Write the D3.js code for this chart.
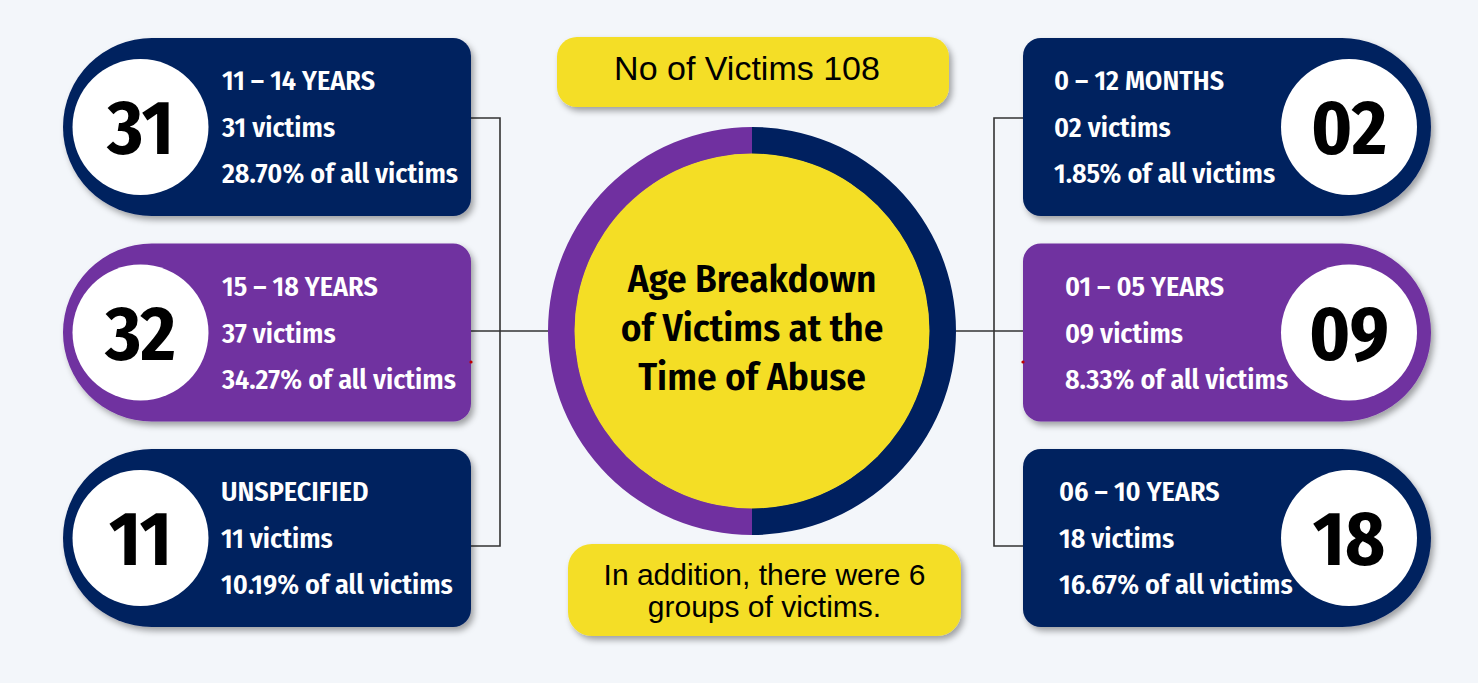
<!doctype html>
<html lang="en">
<head>
<meta charset="UTF-8">
<title>Age Breakdown of Victims</title>
<script src="https://cdn.jsdelivr.net/npm/d3@7"></script>
<style>
  body { margin: 0; background: #f3f6fa; }
  svg { display: block; }
</style>
</head>
<body>
<svg id="chart" width="1478" height="683"></svg>
<script>
// ---- data ----
var groups = ['11 – 14 YEARS', '15 – 18 YEARS', 'UNSPECIFIED', '0 – 12 MONTHS', '01 – 05 YEARS', '06 – 10 YEARS'];
var badgeNumbers = ['31', '32', '11', '02', '09', '18'];
var victimCounts = ['31', '37', '11', '02', '09', '18'];
var percents = ['28.70', '34.27', '10.19', '1.85', '8.33', '16.67'];
var sides = ['left', 'left', 'left', 'right', 'right', 'right'];
var rows = [0, 1, 2, 0, 1, 2];
var tones = ['navy', 'purple', 'navy', 'navy', 'purple', 'navy'];
var ringHalves = [{ tone: 'navy', value: 1 }, { tone: 'purple', value: 1 }];
var totalLabel = 'No of Victims 108';
var titleLines = ['Age Breakdown', 'of Victims at the', 'Time of Abuse'];
var noteLines = ['In addition, there were 6', 'groups of victims.'];

// ---- font pick (condensed bold if there is one) ----
function pickFont(list) {
  var ctx = document.createElement('canvas').getContext('2d');
  var probe = 'abcdefghijk 0123456789 VICTIMS';
  ctx.font = 'bold 40px monospace';
  var base = ctx.measureText(probe).width;
  for (var i = 0; i < list.length; i++) {
    ctx.font = 'bold 40px "' + list[i] + '", monospace';
    if (Math.abs(ctx.measureText(probe).width - base) > 0.5) return '"' + list[i] + '"';
  }
  return 'sans-serif';
}
var condensed = pickFont(['Fira Sans Condensed', 'Liberation Sans Narrow', 'Roboto Condensed', 'DejaVu Sans Condensed', 'Liberation Sans']);
var plain = '"Liberation Sans", Arial, sans-serif';

var color = d3.scaleOrdinal().domain(['navy', 'purple']).range(['#00205f', '#7030a0']);
var yellow = '#f4de25';

var svg = d3.select('#chart');

var defs = svg.append('defs');
var f = defs.append('filter').attr('id', 'shadow')
  .attr('x', '-10%').attr('y', '-10%').attr('width', '125%').attr('height', '130%');
f.append('feDropShadow').attr('dx', 3).attr('dy', 4).attr('stdDeviation', 3)
  .attr('flood-color', '#000').attr('flood-opacity', 0.35);

// row centres and side positions
var rowY = d3.scalePoint().domain([0, 1, 2]).range([127, 538]);
var cardX = d3.scaleOrdinal().domain(['left', 'right']).range([63, 1023]);
var cardW = 408, cardH = 178, corner = 18;
var badgeX = d3.scaleOrdinal().domain(['left', 'right']).range([140.5, 1349]);
var textX = d3.scaleOrdinal().domain(['left', 'right']).range([222, 1058]);
var textNudge = [0, 0, -1, -4, 7, 1];   // small per-card shifts seen in the original

var cx = 752, cy = 331;

function cardPath(side, yc) {
  var x0 = cardX(side), x1 = x0 + cardW, y0 = yc - cardH / 2, y1 = yc + cardH / 2, r = cardH / 2, c = corner;
  if (side === 'left') {
    return 'M' + (x0 + r) + ',' + y0 + 'H' + (x1 - c) + 'A' + c + ',' + c + ' 0 0 1 ' + x1 + ',' + (y0 + c) +
      'V' + (y1 - c) + 'A' + c + ',' + c + ' 0 0 1 ' + (x1 - c) + ',' + y1 +
      'H' + (x0 + r) + 'A' + r + ',' + r + ' 0 0 1 ' + (x0 + r) + ',' + y0 + 'Z';
  }
  return 'M' + (x0 + c) + ',' + y0 + 'H' + (x1 - r) + 'A' + r + ',' + r + ' 0 0 1 ' + (x1 - r) + ',' + y1 +
    'H' + (x0 + c) + 'A' + c + ',' + c + ' 0 0 1 ' + x0 + ',' + (y1 - c) +
    'V' + (y0 + c) + 'A' + c + ',' + c + ' 0 0 1 ' + (x0 + c) + ',' + y0 + 'Z';
}

// ---- connector lines ----
var lines = svg.append('g').attr('stroke', '#333').attr('stroke-width', 1.6).attr('fill', 'none');
var topY = rowY(0) - 9, botY = rowY(2) + 8;
lines.append('path').attr('d', 'M471,' + topY + 'H500V' + botY + 'H471');
lines.append('path').attr('d', 'M471,' + cy + 'H' + (cx - 204));
lines.append('path').attr('d', 'M1023,' + topY + 'H994V' + botY + 'H1023');
lines.append('path').attr('d', 'M1023,' + cy + 'H' + (cx + 204));

// ---- cards ----
var idx = d3.range(groups.length);
var card = svg.selectAll('g.card').data(idx).enter().append('g').attr('class', 'card');

card.append('path')
  .attr('d', function(i) { return cardPath(sides[i], rowY(rows[i])); })
  .attr('fill', function(i) { return color(tones[i]); })
  .attr('filter', 'url(#shadow)');

card.append('circle')
  .attr('cx', function(i) { return badgeX(sides[i]); })
  .attr('cy', function(i) { return rowY(rows[i]); })
  .attr('r', 68)
  .attr('fill', '#fff');

card.append('text')
  .attr('x', function(i) { return badgeX(sides[i]); })
  .attr('y', function(i) { return rowY(rows[i]) + 27; })
  .attr('text-anchor', 'middle')
  .attr('font-family', condensed)
  .attr('font-weight', 'bold')
  .attr('font-size', 76)
  .attr('fill', '#000')
  .text(function(i) { return badgeNumbers[i]; });

var lineDy = [-37, 10, 56];
card.each(function(i) {
  var g = d3.select(this);
  var vals = [groups[i], victimCounts[i] + ' victims', percents[i] + '% of all victims'];
  vals.forEach(function(v, k) {
    g.append('text')
      .attr('x', textX(sides[i]) + textNudge[i])
      .attr('y', rowY(rows[i]) + lineDy[k])
      .attr('font-family', condensed)
      .attr('font-weight', 600)
      .attr('font-size', 28)
      .attr('fill', '#fff')
      .text(v);
  });
});

// small red marks near the middle cards
svg.append('circle').attr('cx', 471).attr('cy', 362).attr('r', 1.6).attr('fill', '#c00000');
svg.append('circle').attr('cx', 1023).attr('cy', 362).attr('r', 1.6).attr('fill', '#c00000');

// ---- centre ring ----
var pie = d3.pie().value(function(d) { return d.value; }).sort(null);
var arc = d3.arc().innerRadius(177).outerRadius(204);
var ring = svg.append('g').attr('transform', 'translate(' + cx + ',' + cy + ')');
ring.selectAll('path').data(pie(ringHalves)).enter().append('path')
  .attr('d', arc)
  .attr('fill', function(d) { return color(d.data.tone); });
ring.append('circle').attr('r', 177.5).attr('fill', yellow);

ring.selectAll('text.title').data(titleLines).enter().append('text')
  .attr('class', 'title')
  .attr('x', 0)
  .attr('y', function(d, i) { return -39 + i * 49; })
  .attr('text-anchor', 'middle')
  .attr('font-family', condensed)
  .attr('font-weight', 600)
  .attr('font-size', 39)
  .attr('fill', '#000')
  .text(function(d) { return d; });

// ---- yellow boxes ----
svg.append('rect').attr('x', 557).attr('y', 37).attr('width', 392).attr('height', 70).attr('rx', 20)
  .attr('fill', yellow).attr('filter', 'url(#shadow)');
svg.append('text').attr('x', 747).attr('y', 80).attr('text-anchor', 'middle')
  .attr('font-family', plain).attr('font-size', 34).attr('fill', '#000').text(totalLabel);

svg.append('rect').attr('x', 568).attr('y', 544).attr('width', 393).attr('height', 92).attr('rx', 24)
  .attr('fill', yellow).attr('filter', 'url(#shadow)');
svg.selectAll('text.note').data(noteLines).enter().append('text')
  .attr('class', 'note')
  .attr('x', 764.5)
  .attr('y', function(d, i) { return 585 + i * 32; })
  .attr('text-anchor', 'middle')
  .attr('font-family', plain).attr('font-size', 30).attr('fill', '#000')
  .text(function(d) { return d; });
</script>
</body>
</html>
